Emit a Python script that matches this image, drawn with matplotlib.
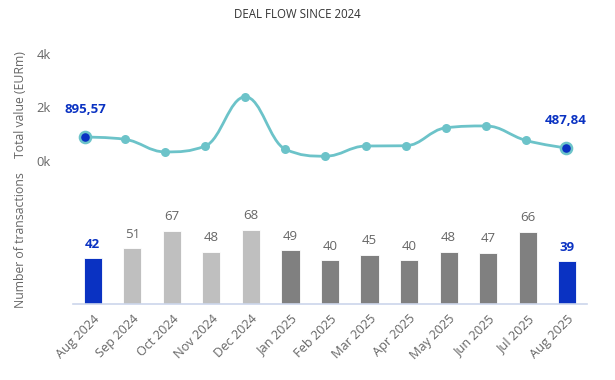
import numpy as np
import matplotlib
matplotlib.use("Agg")
import matplotlib.pyplot as plt
from matplotlib.path import Path
from matplotlib.patches import PathPatch

plt.rcParams['font.family'] = ['Open Sans', 'DejaVu Sans']

months = ["Aug 2024", "Sep 2024", "Oct 2024", "Nov 2024", "Dec 2024", "Jan 2025",
          "Feb 2025", "Mar 2025", "Apr 2025", "May 2025", "Jun 2025", "Jul 2025", "Aug 2025"]
total_value = [895.57, 810, 340, 560, 2400, 440, 180, 560, 570, 1240, 1310, 770, 487.84]
n_deals = [42, 51, 67, 48, 68, 49, 40, 45, 40, 48, 47, 66, 39]
bar_colors = ["#0a32c2"] + ["#bfbfbf"] * 4 + ["#808080"] * 7 + ["#0a32c2"]
highlight = [0, 12]

W, H = 615, 380
fig = plt.figure(figsize=(W / 100, H / 100), dpi=100)


def px_axes(l, t, r, b):
    return fig.add_axes([l / W, 1 - b / H, (r - l) / W, (b - t) / H])


def spline_path(xs, ys, smoothing=1.5):
    # highcharts-style spline control points
    n = len(xs)
    d = smoothing + 1
    left = [(xs[i], ys[i]) for i in range(n)]
    right = [(xs[i], ys[i]) for i in range(n)]
    for i in range(1, n - 1):
        x, y = xs[i], ys[i]
        lx, ly, nx, ny = xs[i - 1], ys[i - 1], xs[i + 1], ys[i + 1]
        lcx = (smoothing * x + lx) / d
        lcy = (smoothing * y + ly) / d
        rcx = (smoothing * x + nx) / d
        rcy = (smoothing * y + ny) / d
        corr = (rcy - lcy) * (rcx - x) / (rcx - lcx) + y - rcy
        lcy += corr
        rcy += corr
        if lcy > ly and lcy > y:
            lcy = max(ly, y); rcy = 2 * y - lcy
        elif lcy < ly and lcy < y:
            lcy = min(ly, y); rcy = 2 * y - lcy
        if rcy > ny and rcy > y:
            rcy = max(ny, y); lcy = 2 * y - rcy
        elif rcy < ny and rcy < y:
            rcy = min(ny, y); lcy = 2 * y - rcy
        left[i] = (lcx, lcy)
        right[i] = (rcx, rcy)
    verts = [(xs[0], ys[0])]
    codes = [Path.MOVETO]
    for i in range(1, n):
        verts += [right[i - 1], left[i], (xs[i], ys[i])]
        codes += [Path.CURVE4] * 3
    return Path(verts, codes)


grey = "#666666"
blue = "#0a32c2"
teal = "#6cc3c9"

fig.text(297 / W, 1 - 15 / H, "DEAL FLOW SINCE 2024", ha="center", va="center",
         fontsize=8.3, color="#333333")

# line chart
ax1 = px_axes(73, 54, 587, 161)
x = np.arange(len(months))
ax1.add_patch(PathPatch(spline_path(x, total_value), fill=False, ec=teal, lw=2, clip_on=False))
ax1.plot(x, total_value, "o", color=teal, ms=6.5, mec="none", clip_on=False, zorder=3)
for i in highlight:
    ax1.plot(x[i], total_value[i], "o", color=blue, ms=8, mec=teal, mew=1.8, clip_on=False, zorder=4)
    ax1.annotate(f"{total_value[i]:.2f}".replace(".", ","), (x[i], total_value[i]),
                 xytext=(0, 20), textcoords="offset points", ha="center", va="center",
                 color=blue, fontsize=9.5, fontweight="bold")
ax1.set_xlim(-0.2994, 12.525)
ax1.set_ylim(0, 4000)
ax1.set_yticks([0, 2000, 4000])
ax1.set_yticklabels(["0k", "2k", "4k"])
ax1.set_xticks([])
ax1.tick_params(axis="y", length=0, labelsize=9.3, labelcolor=grey, pad=16)
for s in ax1.spines.values():
    s.set_visible(False)

# bar chart
ax2 = px_axes(73, 222, 587, 304)
bars = ax2.bar(x, n_deals, width=0.46, color=bar_colors, edgecolor="white", linewidth=0.6)
for i, v in enumerate(n_deals):
    hi = i in highlight
    ax2.annotate(str(v), (x[i], v), xytext=(0, 10), textcoords="offset points",
                 ha="center", va="center", fontsize=9.5,
                 color=blue if hi else grey, fontweight="bold" if hi else "normal")
ax2.set_xlim(-0.5, 12.5)
ax2.set_ylim(0, 75)
ax2.set_yticks([])
ax2.set_xticks(x)
ax2.set_xticklabels(months, rotation=45, ha="right", rotation_mode="anchor")
ax2.tick_params(axis="x", length=0, labelsize=9.2, labelcolor=grey, pad=6)
for s in ["top", "right", "left"]:
    ax2.spines[s].set_visible(False)
ax2.spines["bottom"].set_color("#ccd6eb")
ax2.spines["bottom"].set_linewidth(1.2)

fig.text(20 / W, 1 - 105 / H, "Total value (EURm)", rotation=90, ha="center", va="center",
         fontsize=8.8, color=grey)
fig.text(20 / W, 1 - 240 / H, "Number of transactions", rotation=90, ha="center", va="center",
         fontsize=8.8, color=grey)

fig.savefig("out.png", dpi=100)
